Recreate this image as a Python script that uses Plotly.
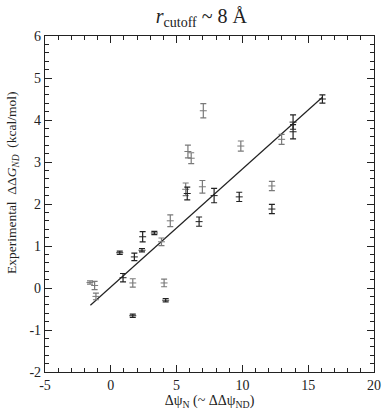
import plotly.graph_objects as go

# Dark-shaded points
dark_x = [0.68, 0.93, 1.67, 1.79, 2.37, 2.42, 3.31, 4.17, 5.81, 6.71, 7.85, 9.76, 12.24, 13.85, 13.85, 16.08]
dark_y = [0.84, 0.245, -0.66, 0.74, 0.90, 1.22, 1.31, -0.29, 2.25, 1.58, 2.20, 2.17, 1.88, 3.95, 3.72, 4.50]
dark_e = [0.04, 0.10, 0.04, 0.09, 0.04, 0.12, 0.04, 0.04, 0.15, 0.11, 0.17, 0.11, 0.11, 0.17, 0.17, 0.10]

# Light-shaded points
light_x = [-1.58, -1.23, -1.13, 1.67, 3.85, 4.05, 4.52, 5.69, 5.86, 6.11, 6.96, 7.03, 9.88, 12.24, 12.98]
light_y = [0.13, 0.06, -0.20, 0.12, 1.10, 0.12, 1.60, 2.35, 3.25, 3.09, 2.41, 4.22, 3.38, 2.43, 3.54]
light_e = [0.04, 0.10, 0.08, 0.10, 0.09, 0.09, 0.14, 0.15, 0.15, 0.13, 0.15, 0.17, 0.12, 0.11, 0.12]

# Regression line endpoints
fit_x = [-1.55, 16.08]
fit_y = [-0.41, 4.54]

x_ticks = [-5, 0, 5, 10, 15, 20]
x_tick_text = ["-5", "0", "5", "10", "15", "20"]
y_ticks = [-2, -1, 0, 1, 2, 3, 4, 5, 6]
y_tick_text = ["-2", "-1", "0", "1", "2", "3", "4", "5", "6"]
x_range = [-5, 20]
y_range = [-2, 6]

FONT = "Liberation Serif, Times New Roman, serif"
INK = "#222222"

fig = go.Figure()
fig.add_trace(go.Scatter(
    x=fit_x, y=fit_y, mode="lines",
    line=dict(color=INK, width=1.2), showlegend=False, hoverinfo="skip"))
fig.add_trace(go.Scatter(
    x=light_x, y=light_y, mode="markers",
    marker=dict(symbol="line-ew", size=5, line=dict(color="#7a7a7a", width=1)),
    error_y=dict(type="data", array=light_e, visible=True, color="#7a7a7a", thickness=1.2, width=3),
    showlegend=False))
fig.add_trace(go.Scatter(
    x=dark_x, y=dark_y, mode="markers",
    marker=dict(symbol="line-ew", size=5, line=dict(color=INK, width=1)),
    error_y=dict(type="data", array=dark_e, visible=True, color=INK, thickness=1.2, width=3),
    showlegend=False))
# invisible trace binding the mirrored (top/right) tick axes
fig.add_trace(go.Scatter(
    x=[x_range[0]], y=[y_range[0]], xaxis="x2", yaxis="y2", mode="markers",
    marker=dict(opacity=0), showlegend=False, hoverinfo="skip"))

axis_common = dict(
    showgrid=False, zeroline=False, showline=True, linecolor=INK, linewidth=1.2,
    ticks="inside", ticklen=7, tickwidth=1.2, tickcolor=INK,
    tickfont=dict(family=FONT, size=14, color=INK),
)
x_minor = dict(dtick=1, ticks="inside", ticklen=4, tickwidth=1, tickcolor=INK)
y_minor = dict(dtick=0.2, ticks="inside", ticklen=4, tickwidth=1, tickcolor=INK)

fig.update_layout(
    width=391, height=415,
    margin=dict(l=45, r=10, t=36, b=43),
    paper_bgcolor="white", plot_bgcolor="white",
    font=dict(family=FONT, color=INK),
    title=dict(
        text="<i>r</i><sub>cutoff</sub> ~ 8 Å",
        x=0.515, xanchor="center", y=0.978, yanchor="top",
        font=dict(family=FONT, size=20, color=INK)),
    xaxis=dict(
        range=x_range, tickmode="array", tickvals=x_ticks, ticktext=x_tick_text,
        minor=x_minor,
        title=dict(text="Δψ<sub>N</sub> (~ ΔΔψ<sub>ND</sub>)", standoff=2,
                   font=dict(family=FONT, size=14, color=INK)),
        **axis_common),
    yaxis=dict(
        range=y_range, tickmode="array", tickvals=y_ticks, ticktext=y_tick_text,
        minor=y_minor, **axis_common),
    xaxis2=dict(
        range=x_range, overlaying="x", side="top", anchor="y2",
        tickmode="array", tickvals=x_ticks, showticklabels=False,
        minor=x_minor, **axis_common),
    yaxis2=dict(
        range=y_range, overlaying="y", side="right", anchor="x2",
        tickmode="array", tickvals=y_ticks, showticklabels=False,
        minor=y_minor, **axis_common),
    annotations=[dict(
        text="Experimental  ΔΔ<i>G</i><sub><i>ND</i></sub>  (kcal/mol)",
        xref="paper", yref="paper", x=-0.1, y=0.5625,
        xanchor="center", yanchor="middle", textangle=-90, showarrow=False,
        font=dict(family=FONT, size=13.5, color=INK))],
)

fig.write_html("out.html", config={"displayModeBar": False})

# remove default page margin so the figure sits at the window's top-left corner
with open("out.html", "r", encoding="utf-8") as f:
    html = f.read()
html = html.replace("<head>", "<head><style>html,body{margin:0;padding:0;overflow:hidden;}</style>", 1)
with open("out.html", "w", encoding="utf-8") as f:
    f.write(html)
